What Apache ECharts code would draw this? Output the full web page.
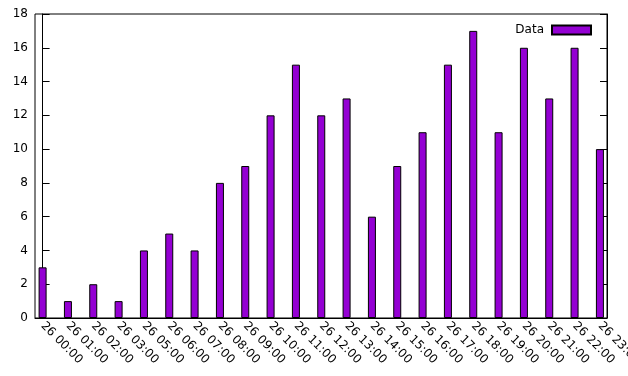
<!DOCTYPE html>
<html>
<head>
<meta charset="utf-8">
<script src="https://cdn.jsdelivr.net/npm/echarts@6/dist/echarts.min.js"></script>
<style>
  html, body { margin: 0; padding: 0; background: #fff; }
  #chart { width: 628px; height: 376px; }
</style>
</head>
<body>
<div id="chart"></div>
<script>
// hour labels (04:00 is missing in the source data)
var categories = [
  '26 00:00', '26 01:00', '26 02:00', '26 03:00', '26 05:00', '26 06:00',
  '26 07:00', '26 08:00', '26 09:00', '26 10:00', '26 11:00', '26 12:00',
  '26 13:00', '26 14:00', '26 15:00', '26 16:00', '26 17:00', '26 18:00',
  '26 19:00', '26 20:00', '26 21:00', '26 22:00', '26 23:00'
];
var values = [3, 1, 2, 1, 4, 5, 4, 8, 9, 12, 15, 12, 13, 6, 9, 11, 15, 17, 11, 16, 13, 16, 10];

var font = 'DejaVu Sans';
var textColor = '#000';

var positions = categories.map(function (c, i) { return i; });
var seriesData = values.map(function (v, i) { return [i, v]; });

var myChart = echarts.init(document.getElementById('chart'), null, { renderer: 'canvas' });

var option = {
  animation: false,
  backgroundColor: '#fff',
  grid: {
    left: 35,
    right: 21,
    top: 14,
    bottom: 58,
    show: true,
    borderColor: '#000',
    borderWidth: 1,
    containLabel: false,
    outerBoundsMode: 'none'
  },
  legend: {
    data: [{ name: 'Data', icon: 'rect' }],
    right: 36,
    top: 24,
    padding: 0,
    align: 'right',
    itemWidth: 39,
    itemHeight: 9,
    textStyle: { fontFamily: font, fontSize: 12, color: textColor, padding: [0, 3, 0, 0] }
  },
  xAxis: {
    type: 'value',
    min: -0.3,
    max: 22.28,
    splitLine: { show: false },
    axisLine: { show: true, lineStyle: { color: '#000', width: 1 } },
    axisTick: { show: false },
    axisLabel: {
      customValues: positions,
      rotate: -45,
      margin: 6,
      fontFamily: font,
      fontSize: 12,
      color: textColor,
      hideOverlap: false,
      formatter: function (v) { return categories[Math.round(v)]; }
    }
  },
  yAxis: [
    {
      type: 'value',
      min: 0,
      max: 18,
      interval: 2,
      splitLine: { show: false },
      axisLine: { show: true, lineStyle: { color: '#000', width: 1 } },
      axisTick: { show: true, inside: true, length: 7, lineStyle: { color: '#000' } },
      axisLabel: { margin: 7, fontFamily: font, fontSize: 12, color: textColor }
    },
    {
      type: 'value',
      position: 'right',
      min: 0,
      max: 18,
      interval: 2,
      splitLine: { show: false },
      axisLine: { show: true, lineStyle: { color: '#000', width: 1 } },
      axisTick: { show: true, inside: true, length: 7, lineStyle: { color: '#000' } },
      axisLabel: { show: false }
    }
  ],
  series: [
    {
      name: 'Data',
      type: 'bar',
      barWidth: 8,
      data: seriesData,
      itemStyle: { color: '#9400d3', borderColor: '#000', borderWidth: 1 }
    }
  ]
};

myChart.setOption(option);
</script>
</body>
</html>
